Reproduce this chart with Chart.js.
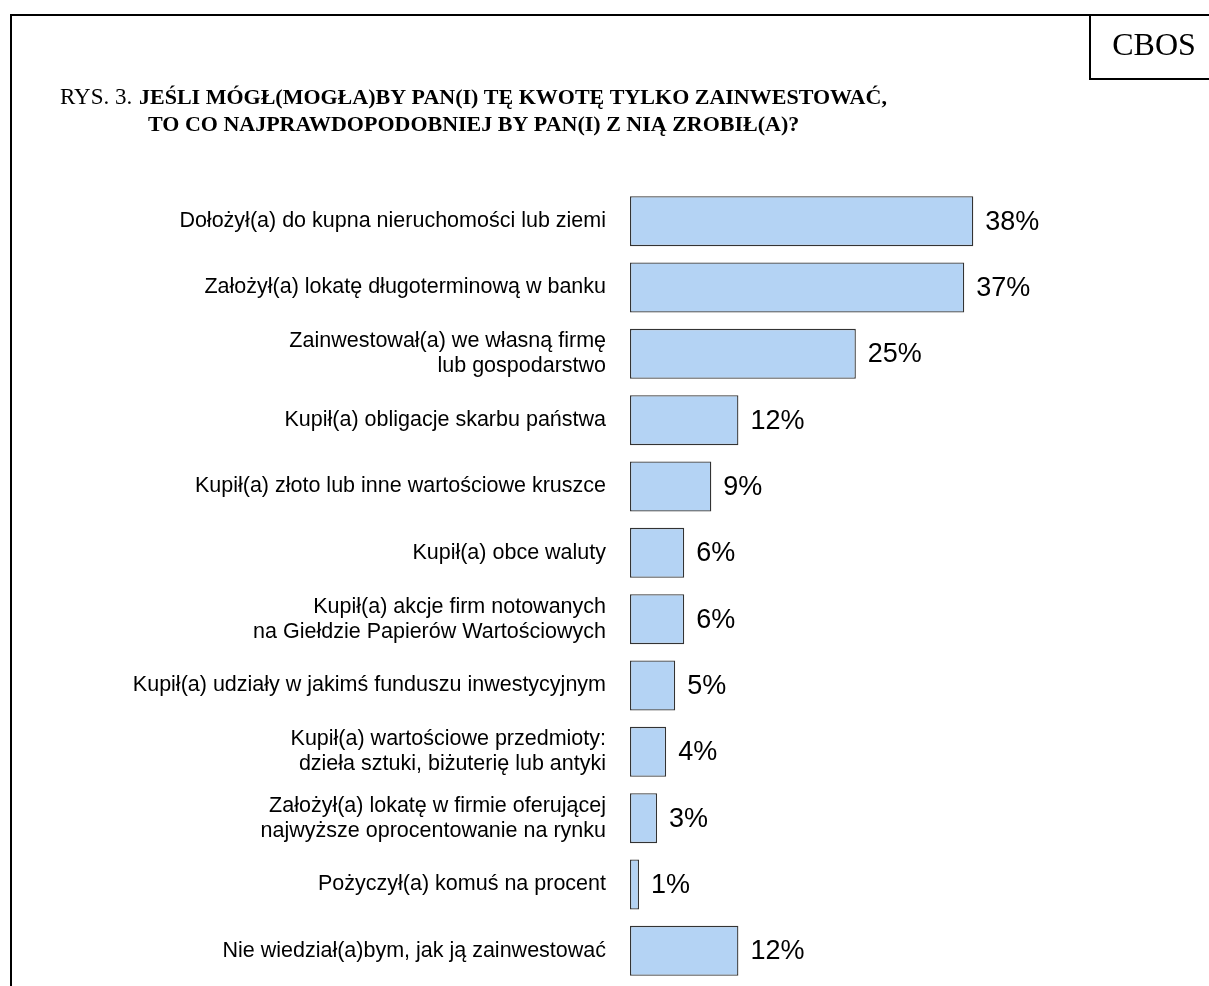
<!DOCTYPE html>
<html>
<head>
<meta charset="utf-8">
<script src="https://cdn.jsdelivr.net/npm/chart.js@4.4.1/dist/chart.umd.min.js"></script>
<style>
  html, body { margin: 0; padding: 0; background: #ffffff; }
  #wrap { position: relative; width: 1209px; height: 986px; overflow: hidden; background: #ffffff; }
  canvas { position: absolute; left: 0; top: 0; }
</style>
</head>
<body>
<div id="wrap"><canvas id="c" width="1209" height="1044"></canvas></div>
<script>
const categories = [
  "Dołożył(a) do kupna nieruchomości lub ziemi",
  "Założył(a) lokatę długoterminową w banku",
  ["Zainwestował(a) we własną firmę", "lub gospodarstwo"],
  "Kupił(a) obligacje skarbu państwa",
  "Kupił(a) złoto lub inne wartościowe kruszce",
  "Kupił(a) obce waluty",
  ["Kupił(a) akcje firm notowanych", "na Giełdzie Papierów Wartościowych"],
  "Kupił(a) udziały w jakimś funduszu inwestycyjnym",
  ["Kupił(a) wartościowe przedmioty:", "dzieła sztuki, biżuterię lub antyki"],
  ["Założył(a) lokatę w firmie oferującej", "najwyższe oprocentowanie na rynku"],
  "Pożyczył(a) komuś na procent",
  "Nie wiedział(a)bym, jak ją zainwestować"
];
const values = [38, 37, 25, 12, 9, 6, 6, 5, 4, 3, 1, 12];
const titlePrefix = "RYS. 3.";
const titleLine1 = "JEŚLI MÓGŁ(MOGŁA)BY PAN(I) TĘ KWOTĘ TYLKO ZAINWESTOWAĆ,";
const titleLine2 = "TO CO NAJPRAWDOPODOBNIEJ BY PAN(I) Z NIĄ ZROBIŁ(A)?";
const brand = "CBOS";

const decorPlugin = {
  id: 'decor',
  beforeDraw(chart) {
    const ctx = chart.ctx;
    ctx.save();
    ctx.fillStyle = '#ffffff';
    ctx.fillRect(0, 0, chart.width, chart.height);
    ctx.strokeStyle = '#000000';
    ctx.lineWidth = 2;
    // outer frame
    ctx.beginPath();
    ctx.moveTo(11, 1044);
    ctx.lineTo(11, 15);
    ctx.lineTo(1209, 15);
    ctx.stroke();
    // CBOS box
    ctx.beginPath();
    ctx.moveTo(1090, 15);
    ctx.lineTo(1090, 79);
    ctx.lineTo(1209, 79);
    ctx.stroke();
    ctx.fillStyle = '#000000';
    ctx.textBaseline = 'alphabetic';
    ctx.textAlign = 'center';
    ctx.font = '32px "Liberation Serif", "Times New Roman", serif';
    ctx.fillText(brand, 1154, 55);
    // title
    ctx.textAlign = 'left';
    ctx.font = '23px "Liberation Serif", "Times New Roman", serif';
    ctx.fillText(titlePrefix, 60, 104);
    ctx.font = 'bold 22px "Liberation Serif", "Times New Roman", serif';
    ctx.fillText(titleLine1, 139, 104);
    ctx.fillText(titleLine2, 148, 131);
    ctx.restore();
  },
  afterDatasetsDraw(chart) {
    const ctx = chart.ctx;
    const meta = chart.getDatasetMeta(0);
    ctx.save();
    ctx.fillStyle = '#000000';
    ctx.font = '27px "Liberation Sans", Arial, sans-serif';
    ctx.textAlign = 'left';
    ctx.textBaseline = 'middle';
    meta.data.forEach((bar, i) => {
      ctx.fillText(values[i] + '%', bar.x + 12, bar.y + 1);
    });
    ctx.restore();
  }
};

new Chart(document.getElementById('c'), {
  type: 'bar',
  data: {
    labels: categories,
    datasets: [{
      data: values,
      backgroundColor: '#b4d3f4',
      borderColor: '#333333',
      borderWidth: 1.3,
      borderSkipped: false,
      barPercentage: 0.7535,
      categoryPercentage: 1.0
    }]
  },
  options: {
    indexAxis: 'y',
    responsive: false,
    animation: false,
    events: [],
    layout: { padding: { left: 0, right: 37, top: 188, bottom: 60 } },
    plugins: { legend: { display: false }, tooltip: { enabled: false }, title: { display: false } },
    scales: {
      x: { display: false, min: 0, max: 60 },
      y: {
        afterFit(scale) { scale.width = 630; },
        grid: { display: false, drawTicks: false },
        border: { display: false },
        ticks: {
          autoSkip: false,
          padding: 24,
          color: '#000000',
          font: { family: '"Liberation Sans", Arial, sans-serif', size: 21.5, lineHeight: 1.16 }
        }
      }
    }
  },
  plugins: [decorPlugin]
});
</script>
</body>
</html>
